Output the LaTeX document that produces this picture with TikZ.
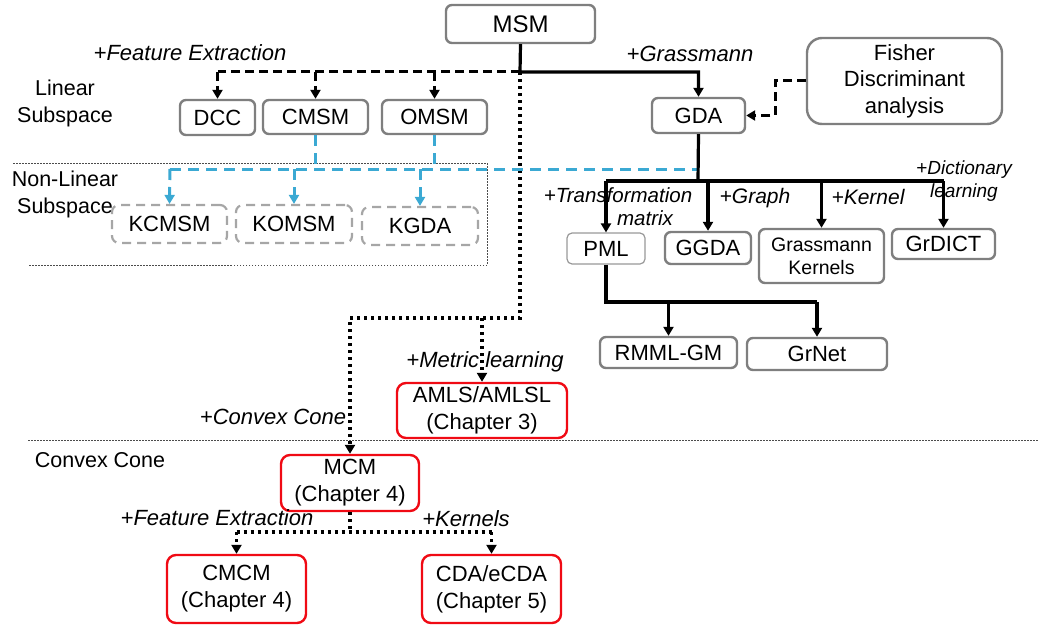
\documentclass[tikz,border=0pt]{standalone}
\usepackage{fontspec}
\setmainfont{Liberation Sans}
\usetikzlibrary{arrows.meta}
\definecolor{boxgray}{HTML}{7F7F7F}
\definecolor{lightgray}{HTML}{A6A6A6}
\definecolor{skyblue}{HTML}{3BA9D3}
\definecolor{boxred}{HTML}{F00A14}
\tikzset{
  base/.style={inner sep=0pt, align=center, fill=white, font=\fontsize{22}{27}\selectfont},
  gbox/.style={base, draw=boxgray, line width=2.4pt, rounded corners=6pt},
  thinbox/.style={base, draw=boxgray!80, line width=1.2pt, rounded corners=5pt},
  kbox/.style={base, draw=lightgray, line width=2.2pt, dash pattern=on 9pt off 6pt, rounded corners=7pt},
  rbox/.style={base, draw=boxred, line width=2.4pt, rounded corners=9pt},
  lab/.style={inner sep=0pt, align=center, font=\fontsize{22}{23}\selectfont\itshape},
  sect/.style={inner sep=0pt, align=center, font=\fontsize{21.5}{27}\selectfont},
  tip/.style={-{Triangle[width=10pt,length=9pt]}},
  solidc/.style={line width=3.2pt, black},
  bdash/.style={line width=3pt, black, dash pattern=on 9pt off 5pt},
  bluec/.style={line width=3pt, skyblue, dash pattern=on 11pt off 7pt},
  dotc/.style={line width=3.2pt, black, dash pattern=on 3pt off 4pt},
  thindot/.style={line width=0.8pt, black!70, dash pattern=on 1.5pt off 1.5pt},
}
\begin{document}
\begin{tikzpicture}[x=1pt,y=-1pt]
\useasboundingbox (0,0) rectangle (1039,626);

% region guides
\coordinate (r1) at (13,163);
\coordinate (r2) at (487,163);
\coordinate (r3) at (487,265);
\coordinate (r4) at (28,265);
\coordinate (h1) at (28,440);
\coordinate (h2) at (1039,440);
\draw[thindot] (r1) -- (r2) -- (r3) -- (r4);
\draw[thindot] (h1) -- (h2);

% section labels
\node[sect] (linsub) at (65,103) {Linear\\Subspace};
\node[sect] (nlsub) at (65,194) {Non-Linear\\Subspace};
\node[sect] (ccsec) at (100,460) {Convex Cone};

% nodes
\node[gbox, minimum width=149pt, minimum height=38pt, font=\fontsize{24}{27}\selectfont] (MSM) at (520.5,24) {MSM};
\node[gbox, minimum width=75pt, minimum height=35pt] (DCC) at (217.5,117.5) {DCC};
\node[gbox, minimum width=105pt, minimum height=34pt] (CMSM) at (315.5,117) {CMSM};
\node[gbox, minimum width=105pt, minimum height=34pt] (OMSM) at (434.5,117) {OMSM};
\node[kbox, minimum width=115pt, minimum height=38pt] (KCMSM) at (169.5,224) {KCMSM};
\node[kbox, minimum width=116pt, minimum height=38pt] (KOMSM) at (294,224) {KOMSM};
\node[kbox, minimum width=116pt, minimum height=38pt] (KGDA) at (420,226) {KGDA};
\node[gbox, minimum width=93pt, minimum height=35pt] (GDA) at (698.5,115.5) {GDA};
\node[gbox, minimum width=195pt, minimum height=86pt, rounded corners=15pt, font=\fontsize{22}{26.5}\selectfont] (FDA) at (904.5,81) {Fisher\\Discriminant\\analysis};
\node[thinbox, minimum width=78pt, minimum height=31pt] (PML) at (606,248.5) {PML};
\node[gbox, minimum width=86pt, minimum height=32pt] (GGDA) at (708,248) {GGDA};
\node[gbox, minimum width=125pt, minimum height=54pt, font=\fontsize{19.5}{23}\selectfont] (GK) at (821.5,256) {Grassmann\\Kernels};
\node[gbox, minimum width=103pt, minimum height=30pt] (GrDICT) at (943.5,244) {GrDICT};
\node[gbox, minimum width=137pt, minimum height=31pt] (RMML) at (668.5,352.5) {RMML-GM};
\node[gbox, minimum width=140pt, minimum height=32pt] (GrNet) at (817,354) {GrNet};
\node[rbox, minimum width=170pt, minimum height=55pt] (AMLS) at (482,410.5) {AMLS/AMLSL\\(Chapter 3)};
\node[rbox, minimum width=138pt, minimum height=56pt] (MCM) at (350,483) {MCM\\(Chapter 4)};
\node[rbox, minimum width=139pt, minimum height=68pt] (CMCM) at (236.5,589) {CMCM\\(Chapter 4)};
\node[rbox, minimum width=139pt, minimum height=68pt] (CDA) at (491.5,589) {CDA/eCDA\\(Chapter 5)};

% junction coordinates
\coordinate (fe) at (520,72);
\coordinate (bl) at (698,169);
\coordinate (bll) at (170,169);
\coordinate (gj) at (698,181);
\coordinate (pj) at (606,302);
\coordinate (dj) at (520,318);
\coordinate (mj) at (350,532);
\coordinate (fj) at (775,81);

% black dashed: feature extraction
\draw[bdash] (fe) -- (DCC.north |- fe);
\draw[bdash, tip] (DCC.north |- fe) -- (DCC.north);
\draw[bdash, tip] (CMSM.north |- fe) -- (CMSM.north);
\draw[bdash, tip] (OMSM.north |- fe) -- (OMSM.north);

% solid: Grassmann
\draw[solidc, tip] (MSM.south) -- (fe) -| (GDA.north);

% dotted
\draw[dotc, tip] (fe) -- (dj) -| (MCM.north);
\draw[dotc, tip] (AMLS.north |- dj) -- (AMLS.north);

% blue dashed: kernel versions
\draw[bluec] (CMSM.south) -- (CMSM.south |- bl);
\draw[bluec] (OMSM.south) -- (OMSM.south |- bl);
\draw[bluec] (bll) -- (bl);
\draw[bluec, tip] (bll) -- (KCMSM.north);
\draw[bluec, tip] (KOMSM.north |- bl) -- (KOMSM.north);
\draw[bluec, tip] (KGDA.north |- bl) -- (KGDA.north);

% GDA branches
\draw[solidc] (GDA.south) -- (gj);
\draw[solidc] (PML.north |- gj) -- (GrDICT.north |- gj);
\draw[solidc, tip] (PML.north |- gj) -- (PML.north);
\draw[solidc, tip] (GGDA.north |- gj) -- (GGDA.north);
\draw[solidc, tip] (GK.north |- gj) -- (GK.north);
\draw[solidc, tip] (GrDICT.north |- gj) -- (GrDICT.north);

% PML branches
\draw[solidc] (PML.south) -- (pj) -- (GrNet.north |- pj);
\draw[solidc, tip] (RMML.north |- pj) -- (RMML.north);
\draw[solidc, tip] (GrNet.north |- pj) -- (GrNet.north);

% Fisher
\draw[bdash, tip] (FDA.west) -- (fj) |- (GDA.east);

% MCM branches
\draw[dotc] (MCM.south) -- (mj);
\draw[dotc] (CMCM.north |- mj) -- (CDA.north |- mj);
\draw[dotc, tip] (CMCM.north |- mj) -- (CMCM.north);
\draw[dotc, tip] (CDA.north |- mj) -- (CDA.north);

% edge labels
\node[lab] (lfe) at (190,53) {+Feature Extraction};
\node[lab] (lgr) at (690,54) {+Grassmann};
\node[lab, font=\fontsize{20.5}{23}\selectfont\itshape] (ltm) at (618,207) {+Transformation\\\hspace*{54pt}matrix};
\node[lab, font=\fontsize{21}{23}\selectfont\itshape] (lgraph) at (755,198) {+Graph};
\node[lab, font=\fontsize{21}{23}\selectfont\itshape] (lker) at (868,197) {+Kernel};
\node[lab, font=\fontsize{19}{23}\selectfont\itshape] (ldict) at (964,181) {+Dictionary\\learning};
\node[lab] (lml) at (485,362) {+Metric learning};
\node[lab] (lcc) at (273,417) {+Convex Cone};
\node[lab] (lfe2) at (217,518) {+Feature Extraction};
\node[lab] (lkers) at (466,519) {+Kernels};
\end{tikzpicture}
\end{document}
